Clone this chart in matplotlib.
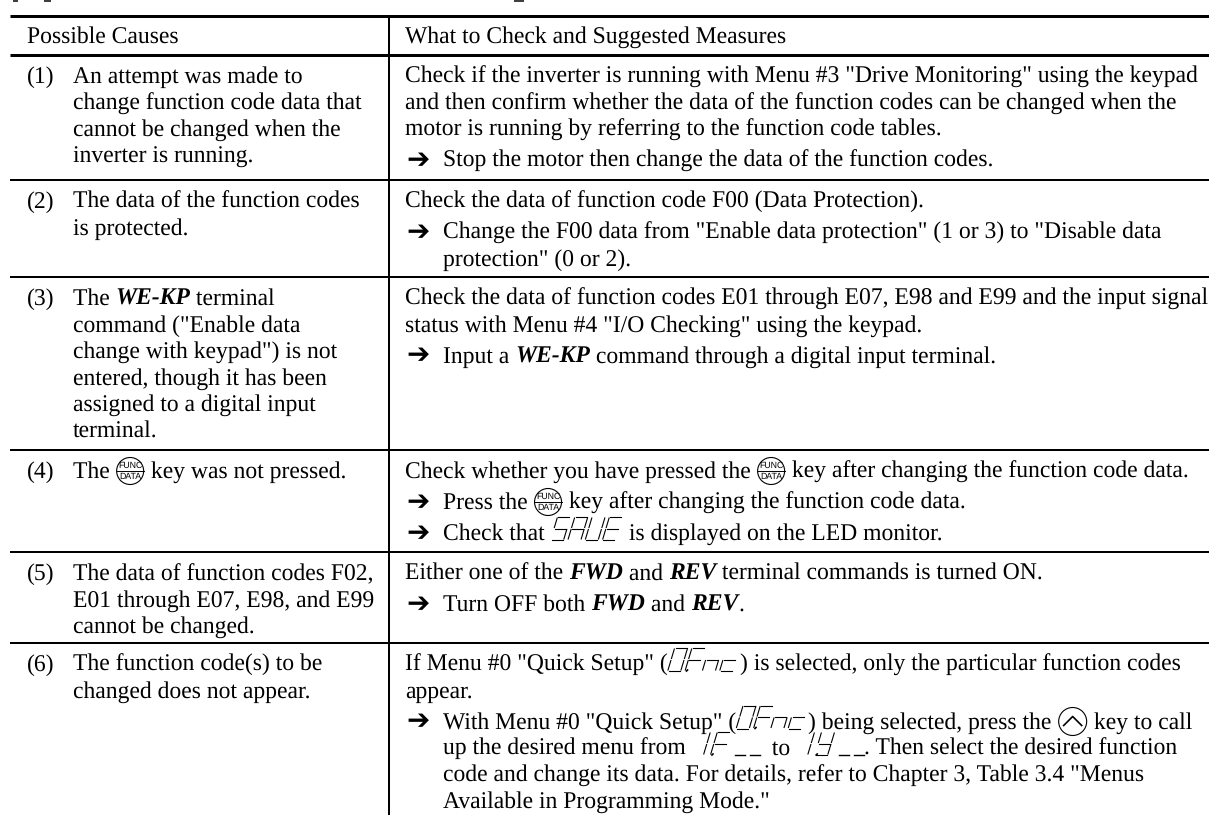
import re
import matplotlib
matplotlib.use("Agg")
import matplotlib.pyplot as plt
from matplotlib.patches import Circle

plt.rcParams["text.hinting"] = "no_hinting"

# table text, **x** = bold italic, {key} = FUNC/DATA key, {up} = up key, {led:x} = LED letters
headers = ["Possible Causes", "What to Check and Suggested Measures"]
numbers = ["(1)", "(2)", "(3)", "(4)", "(5)", "(6)"]
causes = [
    ["An attempt was made to", "change function code data that", "cannot be changed when the", "inverter is running."],
    ["The data of the function codes", "is protected."],
    ["The **WE-KP** terminal", "command (\"Enable data", "change with keypad\") is not", "entered, though it has been", "assigned to a digital input", "terminal."],
    ["The {key} key was not pressed."],
    ["The data of function codes F02,", "E01 through E07, E98, and E99", "cannot be changed."],
    ["The function code(s) to be", "changed does not appear."],
]
checks = [
    ["Check if the inverter is running with Menu #3 \"Drive Monitoring\" using the keypad",
     "and then confirm whether the data of the function codes can be changed when the",
     "motor is running by referring to the function code tables."],
    ["Check the data of function code F00 (Data Protection)."],
    ["Check the data of function codes E01 through E07, E98 and E99 and the input signal",
     "status with Menu #4 \"I/O Checking\" using the keypad."],
    ["Check whether you have pressed the {key} key after changing the function code data."],
    ["Either one of the **FWD** and **REV** terminal commands is turned ON."],
    ["If Menu #0 \"Quick Setup\" ({led:0.Fnc}) is selected, only the particular function codes",
     "appear."],
]
measures = [
    [["Stop the motor then change the data of the function codes."]],
    [["Change the F00 data from \"Enable data protection\" (1 or 3) to \"Disable data",
      "protection\" (0 or 2)."]],
    [["Input a **WE-KP** command through a digital input terminal."]],
    [["Press the {key} key after changing the function code data."],
     ["Check that {led:SAVE} is displayed on the LED monitor."]],
    [["Turn OFF both **FWD** and **REV**."]],
    [["With Menu #0 \"Quick Setup\" ({led:0.Fnc}) being selected, press the {up} key to call",
      "up the desired menu from   {led:1.F__}  to   {led:1.y__}. Then select the desired function",
      "code and change its data. For details, refer to Chapter 3, Table 3.4 \"Menus",
      "Available in Programming Mode.\""]],
]

row_rules = [180, 277, 450, 552, 643, 815]
LED_SEGS = {"S": "afgcd", "A": "abcefg", "V": "bcdef", "E": "adefg", "0": "abcdef", "F": "aefg",
            "n": "ceg", "c": "deg", "1": "bc", "y": "bcdfg"}

W, H = 1209, 815
FS = 17.05
fig = plt.figure(figsize=(W / 100, H / 100), dpi=100)
ax = fig.add_axes([0, 0, 1, 1])
ax.set_xlim(0, W)
ax.set_ylim(H, 0)
ax.axis("off")
renderer = fig.canvas.get_renderer()
SERIF = "Liberation Serif"


def text_width(s, **kw):
    t = ax.text(0, 0, s + "|", fontsize=FS, family=SERIF, **kw)
    a = t.get_window_extent(renderer).width
    t.set_text("|")
    b = t.get_window_extent(renderer).width
    t.remove()
    return a - b


def draw_key(x, y):
    r = 13.5
    cx, cy = x + r + 1, y - 7
    ax.add_patch(Circle((cx, cy), r, fill=False, ec="black", lw=0.8))
    ax.plot([cx - r, cx + r], [cy, cy], color="black", lw=0.7)
    ax.text(cx, cy - 1, "FUNC", ha="center", va="bottom", fontsize=6.3, family="Liberation Sans")
    ax.text(cx, cy + 1.5, "DATA", ha="center", va="top", fontsize=6.3, family="Liberation Sans")
    return 2 * r + 2


def draw_up(x, y):
    r = 14
    cx, cy = x + r + 1, y - 7
    ax.add_patch(Circle((cx, cy), r, fill=False, ec="black", lw=0.8))
    ax.plot([cx - 9, cx, cx + 9], [cy + 4, cy - 5, cy + 4], color="black", lw=1.2)
    return 2 * r + 2


def draw_led(s, x, y):
    w, h, slant, adv = 13, 23, 0.3, 17.3
    start = x
    for ch in s:
        if ch == ".":
            ax.plot([x + 1.5, x + 2.5], [y, y - 1], color="black", lw=1.2)
            continue
        if ch == "_":
            ax.plot([x + 7, x + 17], [y, y], color="black", lw=1.0)
            x += 15
            continue
        if ch == "1":
            cell_w, cell_adv = 0, 7
        else:
            cell_w, cell_adv = w, adv
        corners = {
            "a": ((1, h), (cell_w - 1, h)), "b": ((cell_w, h - 1), (cell_w, h / 2 + 1)),
            "c": ((cell_w, h / 2 - 1), (cell_w, 1)), "d": ((1, 0), (cell_w - 1, 0)),
            "e": ((0, h / 2 - 1), (0, 1)), "f": ((0, h - 1), (0, h / 2 + 1)),
            "g": ((1, h / 2), (cell_w - 1, h / 2)),
        }
        for seg in LED_SEGS[ch]:
            (x0, y0), (x1, y1) = corners[seg]
            ax.plot([x + x0 + slant * y0, x + x1 + slant * y1], [y - y0, y - y1], color="black", lw=0.8)
        x += cell_adv
    return x - start + (3 if s[-1] != "_" else 2)


def draw_line(line, x, y):
    for part in re.split(r"(\*\*.*?\*\*|\{.*?\})", line):
        if not part:
            continue
        if part == "{key}":
            x += draw_key(x, y)
        elif part == "{up}":
            x += draw_up(x, y)
        elif part.startswith("{led:"):
            x += draw_led(part[5:-1], x, y)
        elif part.startswith("**"):
            ax.text(x, y, part[2:-2], fontsize=FS, family=SERIF, weight="bold", style="italic", va="baseline")
            x += text_width(part[2:-2], weight="bold", style="italic")
        else:
            ax.text(x, y, part, fontsize=FS, family=SERIF, va="baseline")
            x += text_width(part)


def rule(x0, x1, y0, y1, px):
    ax.plot([x0, x1], [y0, y1], color="black", lw=px * 0.72, solid_capstyle="butt")


LEFT_NUM, LEFT_TXT, RIGHT_TXT, ARROW_TXT = 27, 73, 405, 443
LINE = 26.5
GAP = 4.5

# bottoms of the heading cut off by the top edge
rule(13, 18, 0.7, 0.7, 1.5)
rule(44, 51, 0.7, 0.7, 1.5)
rule(514, 524, 0.7, 0.7, 1.5)

rule(10, W, 16, 16, 3)
rule(10, W, 55, 55, 3)
rule(389, 389, 16, H, 2)
draw_line(headers[0], LEFT_NUM, 43)
draw_line(headers[1], RIGHT_TXT, 43)

tops = [55] + row_rules[:-1]
for i, top in enumerate(tops):
    if row_rules[i] < H:
        rule(10, W, row_rules[i], row_rules[i], 2)
    draw_line(numbers[i], LEFT_NUM, top + 28)
    for j, line in enumerate(causes[i]):
        draw_line(line, LEFT_TXT, top + 28 + j * LINE)
    y = top + 28
    for line in checks[i]:
        draw_line(line, RIGHT_TXT, y)
        y += LINE
    for para in measures[i]:
        y += GAP
        ax.text(RIGHT_TXT + 1, y + 1, "\u2794", fontsize=20, family="DejaVu Sans", weight="bold", va="baseline")
        for line in para:
            draw_line(line, ARROW_TXT, y)
            y += LINE

fig.savefig("out.png", dpi=100)
